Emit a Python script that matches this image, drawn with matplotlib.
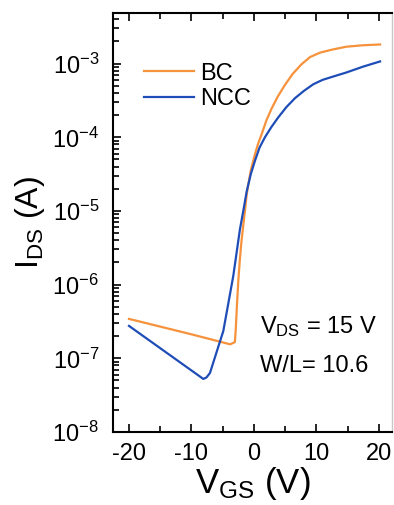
import numpy as np
import matplotlib
matplotlib.use("Agg")
import matplotlib.pyplot as plt
from matplotlib.ticker import LogLocator, FixedLocator, FuncFormatter

plt.rcParams['font.family'] = ['Liberation Sans', 'DejaVu Sans']
plt.rcParams['mathtext.fontset'] = 'custom'
plt.rcParams['mathtext.rm'] = 'Liberation Sans'
plt.rcParams['mathtext.it'] = 'Liberation Sans:italic'
plt.rcParams['axes.unicode_minus'] = False

# transfer curves (V_GS in V, log10 of I_DS in A)
vgs_bc = [-20, -10.2, -3.8, -3.05, -2.9, -2.7, -2.5, -2.24, -2.0, -1.71, -1.4, -1.17,
          -0.9, -0.5, 0.16, 0.7, 1.23, 2.0, 2.83, 3.8, 4.96, 6.2, 7.6, 9.0, 10.6,
          12.5, 14.8, 17.5, 20.2]
log_bc = [-6.465, -6.67, -6.81, -6.78, -6.60, -6.25, -5.95, -5.65, -5.42, -5.20, -4.97, -4.79,
          -4.64, -4.45, -4.23, -4.08, -3.96, -3.77, -3.61, -3.45, -3.29, -3.14, -3.01, -2.91, -2.85,
          -2.81, -2.77, -2.75, -2.74]

vgs_ncc = [-20, -8.1, -7.6, -7.04, -4.9, -3.3, -2.24, -1.7, -1.17, -0.5, 0.16, 0.9,
           1.76, 2.8, 3.89, 5.2, 6.56, 8.0, 9.5, 11.0, 12.5, 14.8, 17.5, 20.2]
log_ncc = [-6.56, -7.28, -7.26, -7.20, -6.63, -5.88, -5.25, -5.00, -4.74, -4.50, -4.32, -4.14,
           -4.00, -3.86, -3.73, -3.59, -3.47, -3.37, -3.28, -3.22, -3.18, -3.12, -3.04, -2.97]

labels = ['BC', 'NCC']
colors = ['#F7923C', '#1F4DB8']

fig = plt.figure(figsize=(3.94, 5.05), dpi=100)
ax = fig.add_axes([0.2868, 0.1446, 0.708, 0.8294])

ax.semilogy(vgs_bc, 10.0 ** np.array(log_bc), color=colors[0], lw=1.6, label=labels[0])
ax.semilogy(vgs_ncc, 10.0 ** np.array(log_ncc), color=colors[1], lw=1.6, label=labels[1])

ax.set_xlim(-22.56, 22.1)
ax.set_ylim(1e-8, 4.85e-3)

ax.xaxis.set_major_locator(FixedLocator([-20, -10, 0, 10, 20]))
ax.xaxis.set_minor_locator(FixedLocator([-15, -5, 5, 15]))
ax.yaxis.set_major_locator(LogLocator(base=10, numticks=20))
ax.yaxis.set_minor_locator(LogLocator(base=10, subs=np.arange(2, 10), numticks=20))
ax.yaxis.set_major_formatter(FuncFormatter(
    lambda v, p: r'$\mathregular{10^{%d}}$' % int(round(np.log10(v)))))

ax.tick_params(which='both', direction='in', top=True, right=False, width=1.2,
               labelsize=17, colors='black')
ax.tick_params(which='major', length=6)
ax.tick_params(which='minor', length=4)
ax.tick_params(axis='x', which='major', pad=8)
ax.tick_params(axis='y', which='major', pad=10)
ax.tick_params(axis='x', which='minor', top=True)

for side in ['left', 'bottom', 'top']:
    ax.spines[side].set_linewidth(1.5)
ax.spines['right'].set_color('#c8c8c8')
ax.spines['right'].set_linewidth(1.0)

ax.set_xlabel(r'V$_{\mathregular{GS}}$ (V)', fontsize=25, labelpad=0)
ax.set_ylabel(r'I$_{\mathregular{DS}}$ (A)', fontsize=23, labelpad=4)

ax.legend(loc='upper left', bbox_to_anchor=(0.07, 0.91), frameon=False, fontsize=17,
          handlelength=2.1, handletextpad=0.25, labelspacing=0.15, borderpad=0)

ax.text(0.527, 0.236, r'V$_{\mathregular{DS}}$ = 15 V', transform=ax.transAxes, fontsize=17)
ax.text(0.527, 0.143, 'W/L= 10.6', transform=ax.transAxes, fontsize=17)

fig.savefig('out.png', dpi=100)
